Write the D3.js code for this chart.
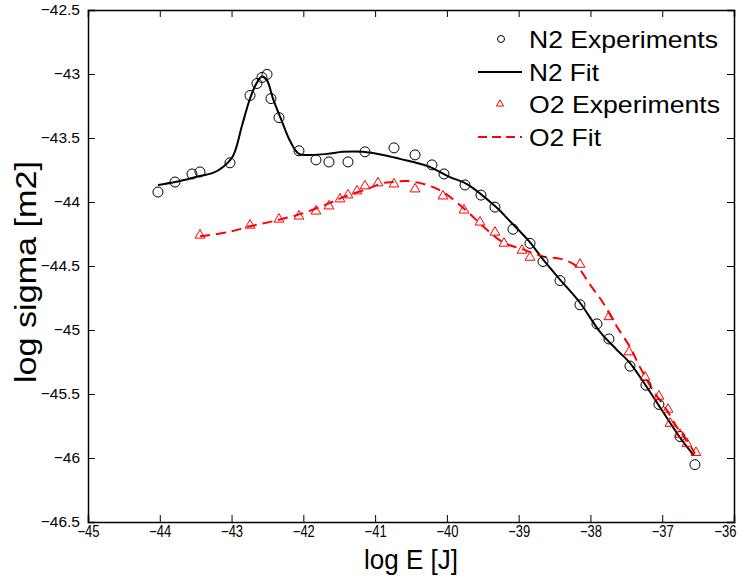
<!DOCTYPE html>
<html><head><meta charset="utf-8">
<script src="https://cdn.jsdelivr.net/npm/d3@7"></script>
<style>body{margin:0;background:#fff}svg{display:block}text{font-family:"Liberation Sans",Arial,Helvetica,sans-serif}</style>
</head><body><svg id="c" width="743" height="577"></svg>
<script>
const n2ExpX=[-44.025,-43.788,-43.551,-43.44,-43.022,-42.743,-42.646,-42.576,-42.506,-42.451,-42.339,-42.061,-41.824,-41.643,-41.378,-41.141,-40.737,-40.444,-40.208,-40.04,-39.748,-39.525,-39.33,-39.079,-38.842,-38.661,-38.424,-38.146,-37.909,-37.742,-37.449,-37.227,-37.046,-36.753,-36.544];
const n2ExpY=[-43.922,-43.844,-43.781,-43.765,-43.694,-43.168,-43.074,-43.027,-43.003,-43.192,-43.341,-43.6,-43.671,-43.687,-43.687,-43.608,-43.577,-43.632,-43.71,-43.781,-43.867,-43.946,-44.04,-44.213,-44.323,-44.465,-44.614,-44.803,-44.952,-45.07,-45.282,-45.431,-45.581,-45.832,-46.052];
const n2FitX=[-44.025,-43.788,-43.44,-43.259,-43.119,-42.98,-42.855,-42.743,-42.646,-42.576,-42.506,-42.423,-42.297,-42.186,-42.061,-41.907,-41.67,-41.447,-41.169,-40.89,-40.653,-40.277,-39.957,-39.72,-39.33,-39.121,-38.842,-38.661,-38.424,-38.146,-37.867,-37.63,-37.449,-37.213,-37.031,-36.753,-36.558];
const n2FitY=[-43.867,-43.844,-43.797,-43.773,-43.726,-43.64,-43.404,-43.192,-43.066,-43.019,-43.05,-43.192,-43.372,-43.522,-43.624,-43.632,-43.624,-43.608,-43.608,-43.632,-43.663,-43.718,-43.805,-43.86,-44.032,-44.15,-44.315,-44.449,-44.606,-44.787,-45.015,-45.156,-45.258,-45.447,-45.604,-45.84,-45.981];
const o2ExpX=[-43.44,-42.743,-42.339,-42.061,-41.824,-41.643,-41.489,-41.378,-41.252,-41.141,-40.96,-40.737,-40.444,-40.054,-39.762,-39.539,-39.33,-39.204,-38.954,-38.842,-38.146,-37.742,-37.463,-37.24,-37.046,-36.92,-36.892,-36.753,-36.656,-36.53];
const o2ExpY=[-44.26,-44.182,-44.135,-44.111,-44.072,-44.032,-43.977,-43.946,-43.915,-43.875,-43.852,-43.86,-43.899,-43.954,-44.064,-44.158,-44.237,-44.323,-44.378,-44.433,-44.488,-44.897,-45.172,-45.368,-45.518,-45.62,-45.73,-45.816,-45.887,-45.958];
const o2FitX=[-43.44,-43.064,-42.743,-42.423,-42.047,-41.67,-41.447,-41.113,-40.89,-40.751,-40.556,-40.277,-40.054,-39.72,-39.497,-39.218,-38.94,-38.661,-38.383,-38.187,-38.006,-37.825,-37.63,-37.449,-37.31,-37.129,-36.934,-36.795,-36.656,-36.544];
const o2FitY=[-44.268,-44.237,-44.19,-44.15,-44.095,-44.017,-43.962,-43.899,-43.852,-43.844,-43.836,-43.867,-43.922,-44.072,-44.19,-44.315,-44.37,-44.425,-44.449,-44.504,-44.645,-44.787,-44.975,-45.133,-45.29,-45.471,-45.628,-45.761,-45.863,-45.966];
const xTicks=[-45,-44,-43,-42,-41,-40,-39,-38,-37,-36];
const yTicks=[-46.5,-46,-45.5,-45,-44.5,-44,-43.5,-43,-42.5];
const legendLabels=["N2 Experiments","N2 Fit","O2 Experiments","O2 Fit"];

const svg=d3.select("#c");
const L=88,R=734,T=10,B=522;
const x=d3.scaleLinear().domain([-45,-36]).range([L,R]);
const y=d3.scaleLinear().domain([-46.5,-42.5]).range([B,T]);
const fmt=d=>d3.format("")(d);

const gx=svg.append("g").attr("transform",`translate(0,${B})`).call(d3.axisBottom(x).tickValues(xTicks).tickSize(-7).tickPadding(4).tickFormat(fmt));
const gxt=svg.append("g").attr("transform",`translate(0,${T})`).call(d3.axisTop(x).tickValues(xTicks).tickSize(-7).tickFormat(""));
const gy=svg.append("g").attr("transform",`translate(${L},0)`).call(d3.axisLeft(y).tickValues(yTicks).tickSize(-7).tickPadding(8).tickFormat(fmt));
const gyr=svg.append("g").attr("transform",`translate(${R},0)`).call(d3.axisRight(y).tickValues(yTicks).tickSize(-7).tickFormat(""));
[gx,gxt,gy,gyr].forEach(g=>{g.selectAll("path.domain").attr("stroke","#000").attr("stroke-width",1.5);g.selectAll(".tick line").attr("stroke","#000").attr("stroke-width",1);});
gx.selectAll(".tick text").attr("font-size",16).attr("fill","#000").attr("textLength",22).attr("lengthAdjust","spacingAndGlyphs")
 .attr("x",(d,i)=>i===xTicks.length-1?-9:0);
gy.selectAll(".tick text").attr("font-size",15.5).attr("fill","#000");
svg.append("text").attr("x",(L+R)/2).attr("y",569).attr("text-anchor","middle").attr("font-size",28)
 .attr("textLength",94).attr("lengthAdjust","spacingAndGlyphs").text("log E [J]");
svg.append("text").attr("transform",`translate(36,272) rotate(-90)`).attr("text-anchor","middle").attr("font-size",29)
 .attr("textLength",222).attr("lengthAdjust","spacingAndGlyphs").text("log sigma [m2]");

const line=d3.line().x(d=>x(d[0])).y(d=>y(d[1])).curve(d3.curveCatmullRom.alpha(0.5));
const n2Fit=n2FitX.map((v,i)=>[v,n2FitY[i]]);
const o2Fit=o2FitX.map((v,i)=>[v,o2FitY[i]]);
svg.append("path").datum(n2Fit).attr("d",line).attr("fill","none").attr("stroke","#000").attr("stroke-width",2);
svg.append("path").datum(o2Fit).attr("d",line).attr("fill","none").attr("stroke","#ff0000").attr("stroke-width",2).attr("stroke-dasharray","10,6");

svg.append("g").selectAll("circle").data(n2ExpX.map((v,i)=>[v,n2ExpY[i]])).join("circle")
 .attr("cx",d=>x(d[0])).attr("cy",d=>y(d[1])).attr("r",5).attr("fill","none").attr("stroke","#000").attr("stroke-width",1);
const tri=d3.symbol().type(d3.symbolTriangle).size(42);
svg.append("g").selectAll("path").data(o2ExpX.map((v,i)=>[v,o2ExpY[i]])).join("path")
 .attr("d",tri).attr("transform",d=>`translate(${x(d[0])},${y(d[1])})`).attr("fill","none").attr("stroke","#ff0000").attr("stroke-width",1);

const lg=svg.append("g");
const ly=[39,72,104,137], tx=529;
const lw=[189,70,191,72];
lg.append("circle").attr("cx",501).attr("cy",ly[0]).attr("r",3.5).attr("fill","none").attr("stroke","#000");
lg.append("line").attr("x1",478).attr("x2",522).attr("y1",ly[1]).attr("y2",ly[1]).attr("stroke","#000").attr("stroke-width",2);
lg.append("path").attr("d",d3.symbol().type(d3.symbolTriangle).size(22)).attr("transform",`translate(500,${ly[2]})`).attr("fill","none").attr("stroke","#ff0000");
lg.append("line").attr("x1",478).attr("x2",522).attr("y1",ly[3]).attr("y2",ly[3]).attr("stroke","#ff0000").attr("stroke-width",2).attr("stroke-dasharray","9,5");
legendLabels.forEach((t,i)=>lg.append("text").attr("x",tx).attr("y",ly[i]+9).attr("font-size",24)
 .attr("textLength",lw[i]).attr("lengthAdjust","spacingAndGlyphs").text(t));
</script></body></html>
